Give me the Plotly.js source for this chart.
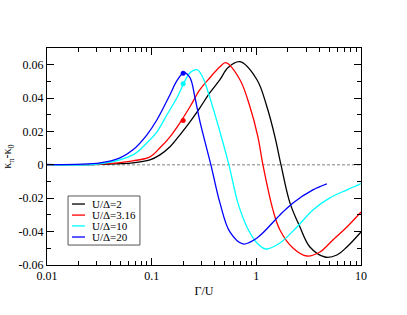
<!DOCTYPE html>
<html>
<head>
<meta charset="utf-8">
<script src="https://cdn.plot.ly/plotly-3.0.1.min.js"></script>
<style>html,body{margin:0;padding:0;background:#fff;}#chart{width:407px;height:315px;}</style>
</head>
<body>
<div id="chart"></div>
<script>
// Series names and colours
const seriesNames = ["U/\u0394=2", "U/\u0394=3.16", "U/\u0394=10", "U/\u0394=20"];
const seriesColors = ["#000000", "#ff0000", "#00ffff", "#0000ff"];

// U/Δ=2 (black)
const x_U2 = [0.01, 0.0321, 0.0663, 0.0963, 0.120, 0.1496, 0.1863, 0.2322, 0.289, 0.360, 0.449, 0.535, 0.697, 1.014, 1.262, 1.506, 1.72, 2.094, 2.61, 3.25, 4.52, 5.89, 7.33, 10];
const y_U2 = [0.0001, 0.0003, 0.0012, 0.003, 0.006, 0.0108, 0.018, 0.0258, 0.0342, 0.0432, 0.051, 0.0582, 0.0618, 0.051, 0.0348, 0.0168, 0.0, -0.0228, -0.0372, -0.0492, -0.0552, -0.054, -0.0492, -0.0402];

// U/Δ=3.16 (red)
const x_U316 = [0.01, 0.0321, 0.0663, 0.0963, 0.120, 0.1496, 0.1863, 0.2322, 0.289, 0.360, 0.449, 0.51, 0.697, 0.869, 1.035, 1.156, 1.441, 1.68, 2.238, 3.04, 4.05, 5.39, 7.33, 10];
const y_U316 = [0.0001, 0.0004, 0.0024, 0.0048, 0.0102, 0.0168, 0.0252, 0.0348, 0.045, 0.0522, 0.0588, 0.0612, 0.051, 0.0348, 0.0168, 0.0, -0.027, -0.039, -0.0498, -0.0546, -0.0522, -0.045, -0.0372, -0.0282];

// U/Δ=10 (cyan)
const x_U10 = [0.01, 0.0321, 0.0663, 0.0901, 0.1124, 0.140, 0.1745, 0.2322, 0.271, 0.309, 0.360, 0.449, 0.547, 0.667, 0.813, 1.014, 1.235, 1.68, 2.444, 3.47, 5.04, 7.33, 10];
const y_U10 = [0.0001, 0.0006, 0.006, 0.0132, 0.0198, 0.030, 0.0402, 0.0552, 0.057, 0.0522, 0.0402, 0.0198, 0.0, -0.0228, -0.0372, -0.0468, -0.0504, -0.0468, -0.0372, -0.027, -0.0198, -0.015, -0.0112];

// U/Δ=20 (blue)
const x_U20 = [0.01, 0.0321, 0.0498, 0.0663, 0.0901, 0.1124, 0.1496, 0.1745, 0.2033, 0.2322, 0.2594, 0.289, 0.368, 0.449, 0.559, 0.744, 1.014, 1.68, 2.238, 3.47, 4.72];
const y_U20 = [0.0002, 0.0012, 0.0042, 0.009, 0.018, 0.027, 0.042, 0.0504, 0.0552, 0.0522, 0.0402, 0.026, 0.0, -0.0228, -0.0402, -0.0474, -0.0438, -0.030, -0.0228, -0.015, -0.0114];

// Marked points (Γ/U, κπ-κ0) for U/Δ=3.16, 10, 20
const markX = [0.2, 0.2, 0.2];
const markY = [0.0266, 0.0486, 0.0549];
const markColors = ["#ff0000", "#00ffff", "#0000ff"];

// Axis ticks
const xTickVals = [0.01, 0.1, 1, 10];
const xTickText = ["0.01", "0.1", "1", "10"];
const xMinorVals = [0.02,0.03,0.04,0.05,0.06,0.07,0.08,0.09,0.2,0.3,0.4,0.5,0.6,0.7,0.8,0.9,2,3,4,5,6,7,8,9];
const yTickVals = [-0.06, -0.04, -0.02, 0, 0.02, 0.04, 0.06];
const yTickText = ["-0.06", "-0.04", "-0.02", "0", "0.02", "0.04", "0.06"];
const yMinorVals = [-0.05, -0.03, -0.01, 0.01, 0.03, 0.05];

const xs = [x_U2, x_U316, x_U10, x_U20];
const ys = [y_U2, y_U316, y_U10, y_U20];

const traces = xs.map((x, i) => ({
  x: x, y: ys[i], type: 'scatter', mode: 'lines', name: seriesNames[i],
  line: {color: seriesColors[i], width: 1.3, shape: 'spline', smoothing: 1},
  showlegend: false, hoverinfo: 'skip'
}));
traces.push({
  x: markX, y: markY, type: 'scatter', mode: 'markers',
  marker: {color: markColors, size: 5}, showlegend: false, hoverinfo: 'skip'
});

const font = {family: 'Liberation Serif, Times New Roman, serif', size: 12, color: '#000'};

// Custom compact legend (paper coordinates)
const legX0 = 0.067, legX1 = 0.296, legY0 = 0.092, legY1 = 0.318;
const rowY = [0.281, 0.230, 0.180, 0.129];
const shapes = [
  {type: 'line', xref: 'paper', yref: 'y', x0: 0, x1: 1, y0: 0, y1: 0,
   line: {color: '#808080', width: 1, dash: '3px,2px'}, layer: 'below'},
  {type: 'rect', xref: 'paper', yref: 'paper', x0: legX0, x1: legX1, y0: legY0, y1: legY1,
   line: {color: '#555555', width: 1}, fillcolor: 'rgba(255,255,255,0)'}
];
const annotations = [];
seriesNames.forEach((nm, i) => {
  shapes.push({type: 'line', xref: 'paper', yref: 'paper', x0: 0.0796, x1: 0.121, y0: rowY[i], y1: rowY[i],
    line: {color: seriesColors[i], width: 1.3}});
  annotations.push({xref: 'paper', yref: 'paper', x: 0.141, y: rowY[i], text: nm, showarrow: false,
    xanchor: 'left', yanchor: 'middle', borderpad: 0,
    font: {family: font.family, size: 11, color: '#000'}});
});

const layout = {
  width: 407, height: 315,
  margin: {l: 47, r: 46, t: 48, b: 50},
  paper_bgcolor: '#fff', plot_bgcolor: '#fff',
  font: font,
  xaxis: {
    type: 'log', range: [-2, 1],
    tickmode: 'array', tickvals: xTickVals, ticktext: xTickText,
    ticks: 'inside', ticklen: 7, tickwidth: 1, tickcolor: '#000',
    minor: {tickmode: 'array', tickvals: xMinorVals, ticks: 'inside', ticklen: 4, tickwidth: 1, tickcolor: '#000', showgrid: false},
    showline: true, linecolor: '#000', linewidth: 1, mirror: 'ticks',
    showgrid: false, zeroline: false,
    title: {text: '\u0393/U', font: {family: font.family, size: 12}, standoff: 4},
    tickfont: {family: font.family, size: 12}
  },
  yaxis: {
    range: [-0.06, 0.07],
    tickmode: 'array', tickvals: yTickVals, ticktext: yTickText,
    ticks: 'inside', ticklen: 7, tickwidth: 1, tickcolor: '#000',
    minor: {tickmode: 'array', tickvals: yMinorVals, ticks: 'inside', ticklen: 4, tickwidth: 1, tickcolor: '#000', showgrid: false},
    showline: true, linecolor: '#000', linewidth: 1, mirror: 'ticks',
    showgrid: false, zeroline: false,
    title: {text: '\u03ba<sub>\u03c0</sub>-\u03ba<sub>0</sub>', font: {family: font.family, size: 12}, standoff: 4},
    tickfont: {family: font.family, size: 12}
  },
  shapes: shapes,
  annotations: annotations
};

Plotly.newPlot('chart', traces, layout, {staticPlot: true, displayModeBar: false});
</script>
</body>
</html>
